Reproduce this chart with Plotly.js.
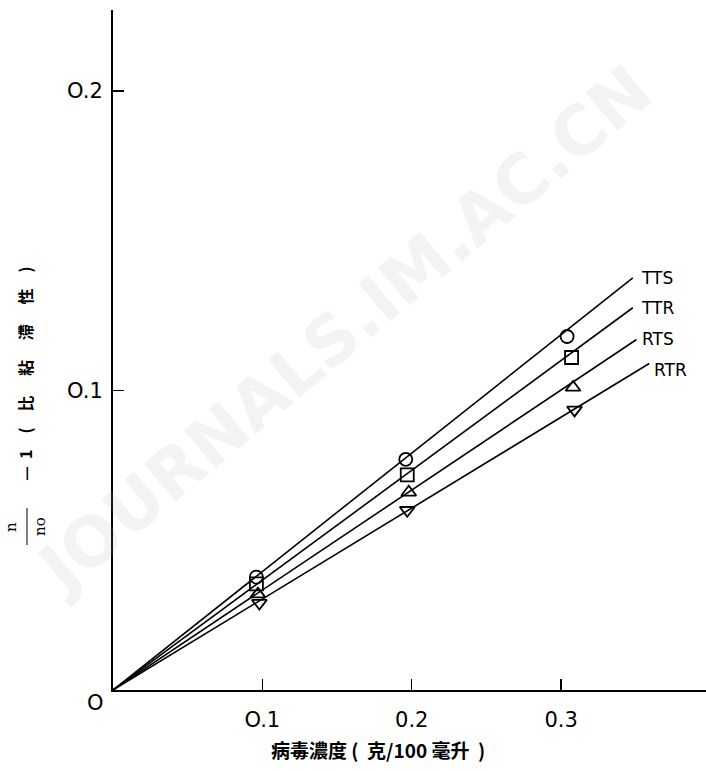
<!DOCTYPE html>
<html>
<head>
<meta charset="utf-8">
<script src="https://cdn.plot.ly/plotly-3.0.1.min.js"></script>
<style>html,body{margin:0;padding:0;background:#fff;}#chart{width:706px;height:771px;}</style>
</head>
<body>
<div id="chart"></div>
<script>
// Series names
const seriesNames = ["TTS", "TTR", "RTS", "RTR"];
// Measured points (virus concentration g/100ml, specific viscosity)
const ttsX = [0.096, 0.196, 0.304];
const ttsY = [0.0377, 0.077, 0.118];
const ttrX = [0.096, 0.197, 0.307];
const ttrY = [0.0354, 0.0718, 0.111];
const rtsX = [0.097, 0.198, 0.308];
const rtsY = [0.032, 0.066, 0.101];
const rtrX = [0.098, 0.197, 0.309];
const rtrY = [0.029, 0.060, 0.0935];
// Fitted straight lines through origin (start, end)
const ttsLineX = [0, 0.348];
const ttsLineY = [0, 0.1376];
const ttrLineX = [0, 0.348];
const ttrLineY = [0, 0.1276];
const rtsLineX = [0, 0.3505];
const rtsLineY = [0, 0.117];
const rtrLineX = [0, 0.359];
const rtrLineY = [0, 0.109];
// Tick values / labels
const xTickVals = [0.1, 0.2, 0.3];
const xTickText = ["O.1", "0.2", "0.3"];
const yTickVals = [0.1, 0.2];
const yTickText = ["O.1", "O.2"];

const symbols = ["circle-open", "square-open", "triangle-up-open", "triangle-down-open"];
const pts = [[ttsX, ttsY], [ttrX, ttrY], [rtsX, rtsY], [rtrX, rtrY]];
const lines = [[ttsLineX, ttsLineY], [ttrLineX, ttrLineY], [rtsLineX, rtsLineY], [rtrLineX, rtrLineY]];

const traces = [];
lines.forEach((l, i) => {
  traces.push({x: l[0], y: l[1], mode: "lines", type: "scatter", name: seriesNames[i],
    line: {color: "#000", width: 1.6}, showlegend: false, hoverinfo: "skip"});
});
pts.forEach((p, i) => {
  traces.push({x: p[0], y: p[1], mode: "markers", type: "scatter", name: seriesNames[i],
    marker: {symbol: symbols[i], size: 13, color: "#000", line: {color: "#000", width: 1.8}},
    showlegend: false});
});

const labelShift = [[6, 0], [6, 0], [3, 1], [3, -7]];
const annotations = [];
lines.forEach((l, i) => {
  annotations.push({x: l[0][1], y: l[1][1], xref: "x", yref: "y", text: seriesNames[i],
    showarrow: false, xanchor: "left", yanchor: "middle", xshift: labelShift[i][0], yshift: labelShift[i][1],
    font: {family: "DejaVu Sans", size: 17, color: "#000"}});
});
// origin label
annotations.push({x: 0, y: 0, xref: "paper", yref: "paper", text: "O", showarrow: false,
  xanchor: "center", yanchor: "middle", xshift: -18, yshift: -13,
  font: {family: "DejaVu Sans", size: 21, color: "#000"}});
// y-axis title pieces (rotated)
annotations.push({x: 0, y: 0.2397, xref: "paper", yref: "paper", text: "n", showarrow: false,
  xanchor: "center", yanchor: "middle", xshift: -102, textangle: -90,
  font: {family: "DejaVu Serif", size: 15, color: "#000"}});
annotations.push({x: 0, y: 0.2397, xref: "paper", yref: "paper", text: "no", showarrow: false,
  xanchor: "center", yanchor: "middle", xshift: -73, textangle: -90,
  font: {family: "DejaVu Serif", size: 15, color: "#000"}});
annotations.push({x: 0, y: 0.465, xref: "paper", yref: "paper",
  text: "—  1　(　比　 粘　 滯　 性　)", showarrow: false,
  xanchor: "center", yanchor: "middle", xshift: -88, textangle: -90,
  font: {family: "Noto Sans CJK TC", size: 16, color: "#000", weight: 700}});
// x-axis title
annotations.push({x: 0.447, y: -0.088, xref: "paper", yref: "paper",
  text: "病毒濃度 (  克/100 毫升  )", showarrow: false,
  xanchor: "center", yanchor: "middle",
  font: {family: "Noto Sans CJK TC", size: 19, color: "#000", weight: 700}});
// watermark
annotations.push({x: 0.39, y: 0.53, xref: "paper", yref: "paper",
  text: "JOURNALS.IM.AC.CN", showarrow: false, textangle: -40,
  xanchor: "center", yanchor: "middle",
  font: {family: "DejaVu Sans", size: 68, color: "rgba(170,170,170,0.14)", weight: 700}});

const shapes = [
  // fraction bar (vertical because rotated)
  {type: "line", xref: "paper", yref: "paper", x0: (27 - 113) / 593, x1: (27 - 113) / 593,
    y0: (690 - 545) / 680, y1: (690 - 508) / 680, line: {color: "#000", width: 1}}
];

const layout = {
  width: 706, height: 771,
  margin: {l: 113, r: 0, t: 10, b: 81, pad: 0},
  paper_bgcolor: "#fff", plot_bgcolor: "#fff",
  showlegend: false,
  xaxis: {range: [0, 0.397], showgrid: false, zeroline: false, showline: true, linecolor: "#000", linewidth: 2,
    ticks: "inside", ticklen: 11, tickwidth: 1.5, tickcolor: "#000", tickvals: xTickVals, ticktext: xTickText,
    ticklabelstandoff: 10, tickfont: {family: "DejaVu Sans", size: 21, color: "#000"}, fixedrange: true},
  yaxis: {range: [0, 0.227], showgrid: false, zeroline: false, showline: true, linecolor: "#000", linewidth: 2,
    ticks: "inside", ticklen: 11, tickwidth: 1.5, tickcolor: "#000", tickvals: yTickVals, ticktext: yTickText,
    ticklabelstandoff: 4, tickfont: {family: "DejaVu Sans", size: 21, color: "#000"}, fixedrange: true},
  annotations: annotations,
  shapes: shapes
};

Plotly.newPlot("chart", traces, layout, {displayModeBar: false, staticPlot: true});
</script>
</body>
</html>
